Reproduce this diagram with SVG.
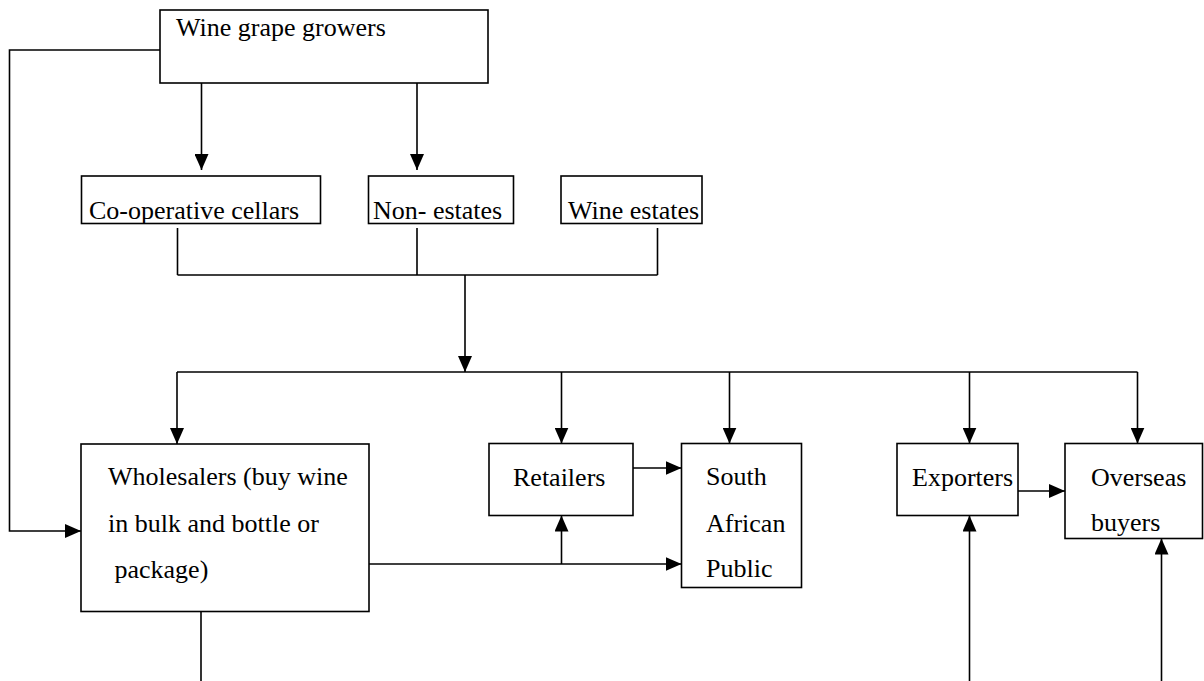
<svg xmlns="http://www.w3.org/2000/svg" width="1204" height="681" viewBox="0 0 1204 681">
<style>
.box{fill:#fff;stroke:#000;stroke-width:1.6}
.ln{fill:none;stroke:#000;stroke-width:1.6}
.arr{marker-end:url(#ah)}
text{font-family:"Liberation Serif","Times New Roman",serif;font-size:26px;fill:#000}
</style>
<defs>
<marker id="ah" viewBox="0 0 16 14" refX="16" refY="7" markerWidth="16" markerHeight="14" orient="auto" markerUnits="userSpaceOnUse">
<path d="M0,0 L16,7 L0,14 z" fill="#000"/>
</marker>
</defs>
<rect width="1204" height="681" fill="#fff"/>
<g id="connectors">
<path class="ln arr" d="M160,50 H9.5 V531 H81"/>
<path class="ln arr" d="M201.5,83 V170"/>
<path class="ln arr" d="M417,83 V170"/>
<path class="ln" d="M177.5,228 V275 M417,228 V275 M657.5,228 V275 M177.5,275 H657.5"/>
<path class="ln arr" d="M465,275 V372"/>
<path class="ln" d="M177,372 H1137.5"/>
<path class="ln arr" d="M177,372 V444"/>
<path class="ln arr" d="M561.5,372 V443.5"/>
<path class="ln arr" d="M729.5,372 V443.5"/>
<path class="ln arr" d="M969.5,372 V443.5"/>
<path class="ln arr" d="M1137.5,372 V443.5"/>
<path class="ln arr" d="M633,468 H681.5"/>
<path class="ln arr" d="M369,564 H681.5"/>
<path class="ln arr" d="M561.5,564 V515.5"/>
<path class="ln" d="M201,611.5 V681"/>
<path class="ln arr" d="M1018,491 H1065"/>
<path class="ln arr" d="M969.5,681 V515.5"/>
<path class="ln arr" d="M1161.5,681 V538.5"/>
</g>
<g id="growers">
<rect class="box" x="160" y="10" width="328" height="73"/>
<text x="176" y="36">Wine grape growers</text>
</g>
<g id="coop">
<rect class="box" x="81.5" y="176" width="239" height="47.5"/>
<text x="89" y="218.5">Co-operative cellars</text>
</g>
<g id="nonestates">
<rect class="box" x="368.5" y="176" width="145" height="47.5"/>
<text x="373" y="218.5">Non- estates</text>
</g>
<g id="wineestates">
<rect class="box" x="561" y="176" width="141" height="47.5"/>
<text x="568" y="218.5">Wine estates</text>
</g>
<g id="wholesalers">
<rect class="box" x="81" y="444" width="288" height="167.5"/>
<text x="108" y="485">Wholesalers (buy wine</text>
<text x="108" y="532">in bulk and bottle or</text>
<text x="108" y="578" xml:space="preserve"> package)</text>
</g>
<g id="retailers">
<rect class="box" x="489" y="443.5" width="144" height="72"/>
<text x="513" y="486">Retailers</text>
</g>
<g id="public">
<rect class="box" x="681.5" y="443.5" width="120" height="144"/>
<text x="706" y="485">South</text>
<text x="706" y="532">African</text>
<text x="706" y="577">Public</text>
</g>
<g id="exporters">
<rect class="box" x="897" y="443.5" width="121" height="72"/>
<text x="912" y="486">Exporters</text>
</g>
<g id="overseas">
<rect class="box" x="1065" y="443.5" width="137.5" height="95"/>
<text x="1091" y="486">Overseas</text>
<text x="1091" y="531">buyers</text>
</g>
</svg>
